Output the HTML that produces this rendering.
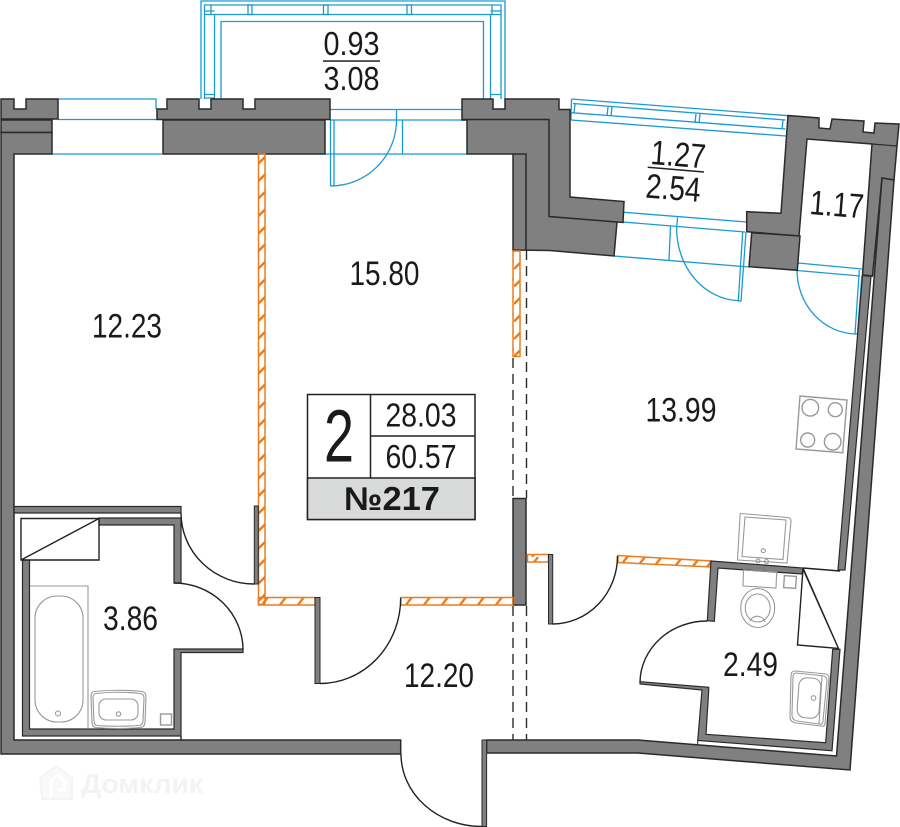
<!DOCTYPE html>
<html><head><meta charset="utf-8"><style>
html,body{margin:0;padding:0;background:#fff;width:900px;height:827px;overflow:hidden}
svg{display:block}
text{font-family:"Liberation Sans",sans-serif;fill:#1a1a1a;font-size:34.5px}
.w{fill:#808080;stroke:#2a2a2a;stroke-width:1.5;stroke-linejoin:miter}
.b{fill:none;stroke:#1b9ad2;stroke-width:1.3}
.k{fill:none;stroke:#222;stroke-width:1.4}
.g{fill:none;stroke:#999;stroke-width:1.1}
.o{stroke:#ec7d1e;stroke-width:1.5}
.d{stroke:#2a2a2a;stroke-width:1.4;stroke-dasharray:10 6;fill:none}
</style></head><body>
<svg width="900" height="827" viewBox="0 0 900 827" xmlns="http://www.w3.org/2000/svg">
<defs>
<pattern id="hv" patternUnits="userSpaceOnUse" width="8" height="17.5" x="258" y="154">
<path d="M0,10 L8,2 M0,27.5 L8,19.5 M0,-7.5 L8,-15.5" stroke="#ec7d1e" stroke-width="2.4"/>
</pattern>
<pattern id="hh" patternUnits="userSpaceOnUse" width="18" height="8" x="258" y="597">
<path d="M4,8 L10,0" stroke="#ec7d1e" stroke-width="2.4"/>
</pattern>
</defs>

<!-- watermark -->
<g>
<path d="M40,778 L56,766 L72,778 V799 H42 Z" fill="#f9f9f9" stroke="#f4f4f4" stroke-width="2"/>
<path d="M51,797 V780 L58,775 L65,781 V790 H58" fill="none" stroke="#fff" stroke-width="3"/>
<text x="81" y="793" textLength="122" lengthAdjust="spacingAndGlyphs" style="font-size:27px;font-weight:bold;fill:#f3f3f3">Домклик</text>
</g>

<!-- balcony 1 -->
<g class="b">
<path d="M201,99V1H505V99"/>
<path d="M204.5,99V5H501V99M214.5,99V15M490.5,99V15M204.5,14.5H501"/>
<path d="M221,99V21.5H483.5V99"/>
<path d="M211,5V15M204.5,11H214.5M204.5,94.5H214.5M204.5,98H214.5M492,5V15M490.5,11H501M490.5,94.5H501"/>
<rect x="248" y="5" width="4" height="9.5"/>
<rect x="323.5" y="5" width="4.5" height="9.5"/>
<rect x="407" y="5" width="4.5" height="9.5"/>
</g>

<!-- balcony 2 -->
<g class="b">
<path d="M571.5,99L788,115.7"/>
<path d="M573,103.5L785.5,120"/>
<path d="M571,112.7L785.5,129"/>
<path d="M571,120L786,136"/>
<path d="M571.5,99L571,120M575,104L574,113M608,107L607,116M612,107L611,116M696,114L695,123M700,114L699,123M783,120L782,129"/>
</g>

<!-- windows/doors blue -->
<g class="b">
<path d="M58,99H156V109M58,119.5H157M52,154H162"/>
<path d="M330,109.5H462M330,120H467M325,154H467"/>
<path d="M396.5,109.5V120M402.5,120V154"/>
<path d="M330.5,120V186M334,120V186M330.5,186H334"/>
<path d="M330.5,186A66,66 0 0 0 396.5,120"/>
<path d="M624,212.3L746.7,222M623,222L745,232M614,256L749,267"/>
<path d="M670.5,226L669,260M677.5,217.5L676.7,228"/>
<path d="M676.7,228A64,72 0 0 0 738.3,300.7"/>
<path d="M742.7,231.7L738.3,301L741,301L746,232"/>
<path d="M798,263L862,269M797,270.5L860,276"/>
<path d="M797,270.5A60,64 0 0 0 855,334"/>
<path d="M859.3,270L855,334L857.5,334L861.8,276"/>
</g>

<!-- walls -->
<path class="w" d="M1,99H14V109H26V99H58V119H1Z"/>
<path class="w" d="M1,120H52V132.5H1Z"/>
<path class="w" d="M1,132.5H52V154H14V740H400.7V754H1Z"/>
<path class="w" d="M157,119.5V109H167V99H199V109H211V99H243V109H255V99H330V119.5Z"/>
<path class="w" d="M163,120H325V154H163Z"/>
<path class="w" d="M462,99H493V109H505V99H559V109.5H570V197L624,201.5L623,222.5L617,222L614,256L550,250.5L513,250V154H467V120H462Z"/>
<path fill="none" stroke="#2a2a2a" stroke-width="1.5" d="M462,119.5H549V216.5L617,222M513,154H526V250"/>
<path class="w" d="M788,115.5L819,118L819,128L830,129L832,119L864,121L863,132L874,133L875,123L899,124L897,146L894,180L882,178L872.5,276L862.5,275L872,144L807,139L799,236L746.7,231.7L746.7,211.7L781,213.3Z"/>
<path fill="none" stroke="#2a2a2a" stroke-width="1.2" d="M872,144L897,146"/>
<path class="w" d="M751.7,232.7L800,236L797.3,270.3L749,266.7Z"/>
<path class="w" d="M862.5,275.5L871,276.3L845,570L838,570Z" style="stroke-width:1.2"/>
<path class="w" d="M486.6,740H638L836.5,756L882,178L894,180L850,770L638,753H486.6Z"/>
<path class="w" d="M513,498.5H526V605H513Z"/>

<!-- dashes -->
<path class="d" d="M513,358V498M513,606V740"/>
<path class="d" d="M526.5,250V498M526.5,606V740"/>

<!-- orange partitions -->
<rect x="258.5" y="154" width="6.5" height="450.5" fill="url(#hv)" class="o"/>
<rect x="258.5" y="597.5" width="56.5" height="7.5" fill="url(#hh)" class="o"/>
<rect x="400.7" y="597.5" width="112" height="7.5" fill="url(#hh)" class="o"/>
<rect x="513" y="251" width="7" height="105.5" fill="url(#hv)" class="o"/>
<rect x="527.5" y="554.5" width="21" height="7.5" fill="url(#hh)" class="o"/>
<path class="o" fill="#fff" d="M618,555.5L711,561L711,567L618,562.5Z"/>
<path stroke="#ec7d1e" stroke-width="2.4" d="M623,562.5L628,556M640,563.3L645,557M656,564L661,558M676,565L681,559M693,566L698,560M707,567L711,562"/>

<!-- left partitions -->
<path class="w" d="M14,506.5H181V513H14Z" style="stroke-width:1.2"/>
<path class="w" d="M99,518H181V583H174V525H99Z" style="stroke-width:1.2"/>
<path class="w" d="M174,649H243V652.5H181V736H22.5V560H29.5V729H174Z" style="stroke-width:1.2"/>
<path class="k" d="M181,736V740"/>
<path class="k" d="M21,518.5H99V560H21ZM21,560L99,518.5"/>
<path class="w" d="M254.3,506H258.3V584H254.3Z" style="stroke-width:1"/>
<path class="w" d="M315,597.5H320V683.5H315Z" style="stroke-width:1"/>
<path class="w" d="M548.5,554.5H552.7V624H548.5Z" style="stroke-width:1"/>
<path class="w" d="M482,740H486.6V826.5H482Z" style="stroke-width:1"/>

<!-- arcs -->
<g class="k">
<path d="M181,513A73,71 0 0 0 254.3,584"/>
<path d="M174,583A69,67 0 0 1 243,650"/>
<path d="M320,683.5A80.7,85.5 0 0 0 400.7,598"/>
<path d="M401,754A81,72.5 0 0 0 482,826.5"/>
<path d="M552.7,624A65,68 0 0 0 617.5,556"/>
<path d="M707.3,621A67,62 0 0 0 640,682"/>
</g>

<!-- bath 1 fixtures -->
<g class="g">
<path d="M30,586H88V729"/>
<rect x="35" y="596" width="48" height="126" rx="22" ry="22"/>
<circle cx="58" cy="713.5" r="2.5"/>
<path d="M94,691.5Q118,689 142,691.5Q146,692 146,697L145,722Q145,727 140,727.5Q118,729.5 96,727.5Q92,727 92,722L91,697Q91,692 94,691.5Z"/>
<path d="M96,693.5Q118,691 140,693.5Q144,694 144,698L143,721Q143,725 139,725.5Q118,727 97,725.5Q94,725 94,721L93,698Q93,694 96,693.5Z"/>
<rect x="99" y="699" width="39" height="21" rx="7"/>
<circle cx="118.5" cy="714" r="2.2"/>
<rect x="160.5" y="714" width="11" height="11" stroke-width="1.4"/>
</g>

<!-- bath 2 walls -->
<path class="w" d="M711,561L803,568L802,574L718,568L714.3,621.3L707.3,620.7Z" style="stroke-width:1.2"/>
<path class="w" d="M640,681.7L708.7,687.3V690.5L706,734.3L825.7,742.7L832.7,649.3H840L832,750.7L697.7,740.5L702,690L640,684Z" style="stroke-width:1.2"/>
<path class="k" d="M803,568L840,571M803,569L797.5,645L838.5,648.5ZM803,568L838.5,648.5"/>
<path class="k" d="M697.7,741V744.3" style="stroke-width:1"/>

<!-- bath 2 fixtures -->
<g class="g">
<path d="M741,513.5L788,517.5Q791,518 791,521L787,563L737.5,560L740,516Q740,513 741,513.5Z"/>
<path d="M745,517L786,520L783,559.5L742,556.5Z"/>
<circle cx="763.3" cy="550.7" r="2"/>
<circle cx="758" cy="561" r="2"/>
<circle cx="766.5" cy="561.5" r="2"/>
<path d="M743.5,570L776.7,572L776,588L743,586Z"/>
<ellipse cx="757.7" cy="608" rx="17" ry="19.5"/>
<ellipse cx="757.7" cy="608" rx="12.5" ry="14"/>
<path d="M750,621A8,8 0 0 1 765,622"/>
<rect x="784" y="576" width="12" height="12" transform="rotate(4 790 582)" stroke-width="1.4"/>
<path d="M795,671L826,674Q829,675 829,678L825,723Q825,727 821,726L796,723Q790,722 790,717L791,676Q791,671 795,671Z"/>
<path d="M796,673L824,676Q827,677 827,680L823,721Q823,725 819,724L797,721Q792,720 792,715L793,677Q793,673 796,673Z"/>
<rect x="798" y="678" width="22" height="40" rx="8" transform="rotate(4 809 698)"/>
<circle cx="813.5" cy="698" r="2.3"/>
<path d="M822,676L819,724"/>
<path d="M800,396L847,400L842.7,452.7L796,449Z" stroke-width="1.4"/>
<circle cx="810.3" cy="407.7" r="8.3" stroke-width="1.4"/>
<circle cx="835.3" cy="409.7" r="7" stroke-width="1.4"/>
<circle cx="807.7" cy="440" r="7" stroke-width="1.4"/>
<circle cx="832.7" cy="441.7" r="8.3" stroke-width="1.4"/>
</g>

<!-- info table -->
<rect x="307.5" y="394.5" width="167.5" height="125" fill="#fff" stroke="#222" stroke-width="1.5"/>
<rect x="307.5" y="478" width="167.5" height="41.5" fill="#d9dbda" stroke="#222" stroke-width="1.5"/>
<path d="M370.5,394.5V478M370.5,436H475" stroke="#222" stroke-width="1.5" fill="none"/>
<text x="324" y="461.5" textLength="30" lengthAdjust="spacingAndGlyphs" style="font-size:74px">2</text>
<text x="385.5" y="426.5" textLength="71" lengthAdjust="spacingAndGlyphs" style="font-size:33px">28.03</text>
<text x="385.5" y="468" textLength="71" lengthAdjust="spacingAndGlyphs" style="font-size:33px">60.57</text>
<text x="344" y="510" textLength="96" lengthAdjust="spacingAndGlyphs" style="font-size:33px;font-weight:bold">№217</text>

<!-- labels -->
<text x="323.5" y="55" textLength="56" lengthAdjust="spacingAndGlyphs" style="font-size:33px">0.93</text>
<rect x="323" y="60.3" width="57" height="1.5" fill="#222"/>
<text x="323.5" y="90" textLength="56" lengthAdjust="spacingAndGlyphs" style="font-size:33px">3.08</text>
<text x="349.5" y="285" textLength="70" lengthAdjust="spacingAndGlyphs">15.80</text>
<text x="92" y="337.5" textLength="70" lengthAdjust="spacingAndGlyphs">12.23</text>
<text x="645.5" y="421.5" textLength="71" lengthAdjust="spacingAndGlyphs">13.99</text>
<text x="103" y="630" textLength="55" lengthAdjust="spacingAndGlyphs">3.86</text>
<text x="404" y="687" textLength="70" lengthAdjust="spacingAndGlyphs">12.20</text>
<text x="723" y="676" textLength="55" lengthAdjust="spacingAndGlyphs">2.49</text>
<text transform="translate(650,164) rotate(4.5)" textLength="55" lengthAdjust="spacingAndGlyphs">1.27</text>
<path d="M647.7,167.3L704,172" stroke="#222" stroke-width="1.5"/>
<text transform="translate(645,197.5) rotate(4.5)" textLength="55" lengthAdjust="spacingAndGlyphs">2.54</text>
<text transform="translate(809,214) rotate(4.5)" textLength="54" lengthAdjust="spacingAndGlyphs">1.17</text>
</svg>
</body></html>
